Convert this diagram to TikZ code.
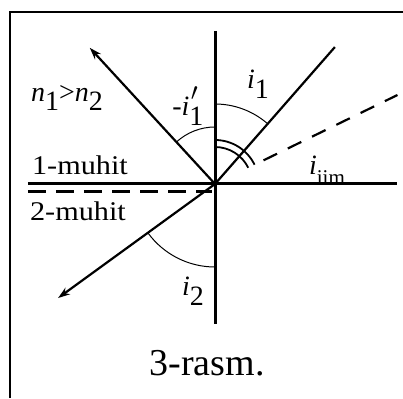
\documentclass[tikz,border=0pt]{standalone}
\usepackage{fontspec}
\setmainfont{Liberation Serif}
\usetikzlibrary{arrows.meta}
\newcommand{\sub}[1]{\raisebox{-0.35em}{#1}}
\begin{document}
\begin{tikzpicture}[x=1pt,y=1pt,
  axis/.style={line width=3pt},
  ray/.style={line width=2.2pt},
  arrowray/.style={ray,-{Stealth[length=12pt,width=8pt]}},
  anglearc/.style={line width=1pt},
  medlabel/.style={inner sep=0pt,font=\fontsize{27}{27}\selectfont},
  symlabel/.style={inner sep=0pt,font=\fontsize{28}{28}\selectfont},
  caption/.style={inner sep=0pt,font=\fontsize{38}{38}\selectfont}]
\useasboundingbox (-215,-214) rectangle (188,184);
% frame
\draw[line width=2pt] (-205,-214) -- (-205,172) -- (188,172);
\coordinate (O) at (0,0);
\coordinate (top) at (0,153);
\coordinate (bot) at (0,-140);
\coordinate (hl) at (-187,0);
\coordinate (hr) at (182,0);
\coordinate (dl) at (-187,-8);
\coordinate (dr) at (-3,-8);
\coordinate (inc) at (48.8:182);
\coordinate (refl) at (132.6:185);
\coordinate (lim1) at (26:54);
\coordinate (lim2) at (26:203);
\coordinate (refr) at (216:194);
% axes
\draw[axis] (top) -- (bot);
\draw[axis] (hl) -- (hr);
\draw[axis,dash pattern=on 18pt off 10pt] (dl) -- (dr);
% rays
\draw[ray] (O) -- (inc);
\draw[arrowray] (O) -- (refl);
\draw[arrowray] (O) -- (refr);
\draw[ray,dash pattern=on 15pt off 12pt] (lim1) -- (lim2);
% angle arcs
\draw[anglearc] (90:80) arc[start angle=90,end angle=48.8,radius=80];
\draw[anglearc] (90:57) arc[start angle=90,end angle=132.6,radius=57];
\draw[anglearc] (216:83) arc[start angle=216,end angle=270,radius=83];
\draw[line width=1.8pt] (90:37) arc[start angle=90,end angle=26,radius=37];
\draw[line width=1.8pt] (90:44) arc[start angle=90,end angle=26,radius=44];
% labels
\node[symlabel] (n) at (-148,86) {\textit{n}\sub{1}>\textit{n}\sub{2}};
\node[symlabel] (ir) at (-30,78) {-\textit{i}\sub{1}\kern-0.45em\raisebox{0.55em}{$\prime$}};
\node[symlabel] (ii) at (43,100) {\textit{i}\sub{1}};
\node[symlabel] (il) at (112,14) {\textit{i}\sub{\fontsize{21}{21}\selectfont iim}};
\node[symlabel] (it) at (-22,-107) {\textit{i}\sub{2}};
\node[medlabel,anchor=base] (m1) at (-135,9) {\scalebox{1.12}[1]{1-muhit}};
\node[medlabel,anchor=base] (m2) at (-137,-36) {\scalebox{1.12}[1]{2-muhit}};
\node[caption,anchor=base] (cap) at (-8,-191) {3-rasm.};
\end{tikzpicture}
\end{document}
